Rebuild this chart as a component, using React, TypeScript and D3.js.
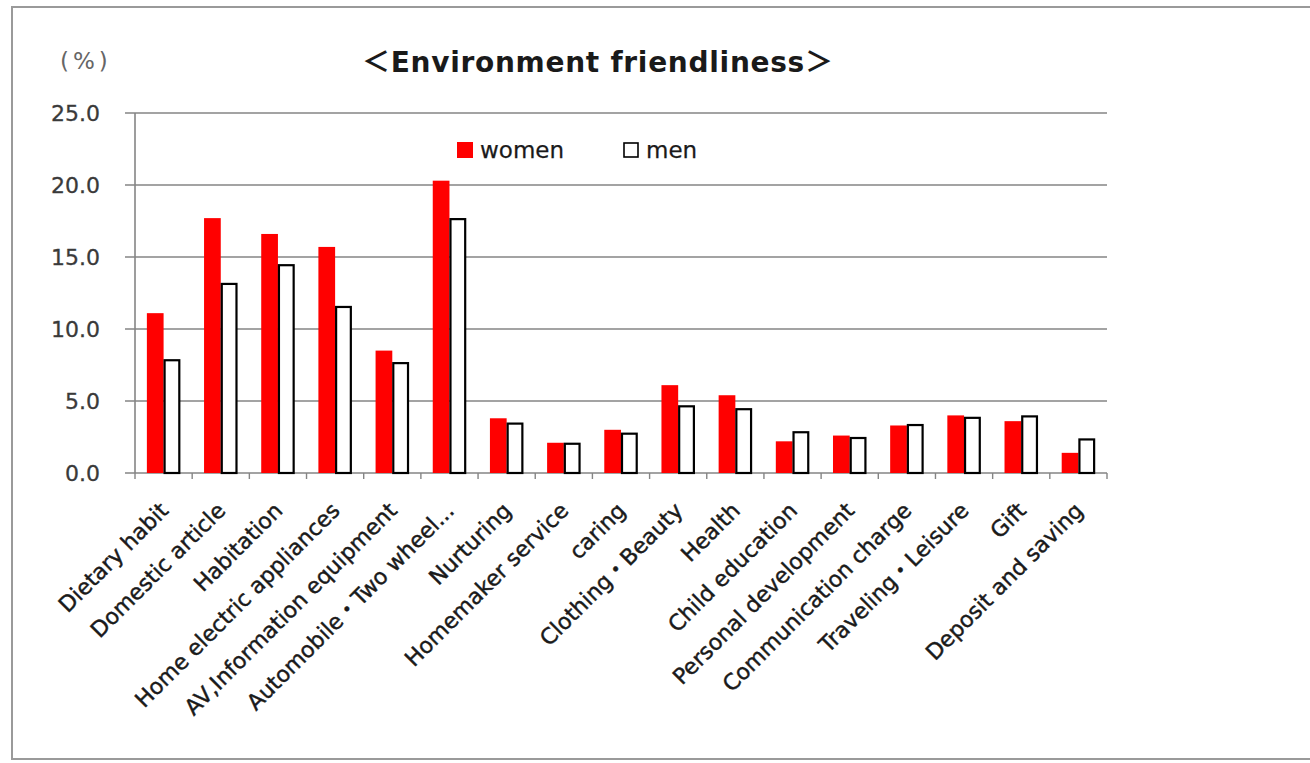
import React from "react";
import * as d3 from "d3";

const categories = [
  "Dietary habit",
  "Domestic article",
  "Habitation",
  "Home electric appliances",
  "AV,Information equipment",
  "Automobile・Two wheel...",
  "Nurturing",
  "Homemaker service",
  "caring",
  "Clothing・Beauty",
  "Health",
  "Child education",
  "Personal development",
  "Communication charge",
  "Traveling・Leisure",
  "Gift",
  "Deposit and saving",
];

const women = [11.1, 17.7, 16.6, 15.7, 8.5, 20.3, 3.8, 2.1, 3.0, 6.1, 5.4, 2.2, 2.6, 3.3, 4.0, 3.6, 1.4];
const men = [7.9, 13.2, 14.5, 11.6, 7.7, 17.7, 3.5, 2.1, 2.8, 4.7, 4.5, 2.9, 2.5, 3.4, 3.9, 4.0, 2.4];

const seriesNames = ["women", "men"];
const yTicks = [0, 5, 10, 15, 20, 25];

const W = 1310;
const H = 763;
const plotLeft = 135;
const plotRight = 1107;
const plotTop = 113;
const plotBottom = 473;

const FONT = "'DejaVu Sans', 'Noto Sans CJK JP', sans-serif";

export default function App() {
  const x0 = d3.scaleBand<string>().domain(categories).range([plotLeft, plotRight]).paddingInner(0).paddingOuter(0);
  const x1 = d3
    .scaleBand<string>()
    .domain(seriesNames)
    .range([0, x0.bandwidth()])
    .paddingInner(0)
    .paddingOuter(0.71);
  const y = d3.scaleLinear().domain([0, 25]).range([plotBottom, plotTop]);

  const data = [women, men];
  const boundaries = categories.map((c) => x0(c) as number).concat([plotRight]);

  return (
    <svg
      width={W}
      height={H}
      style={{ position: "absolute", left: 0, top: 0, background: "#fff" }}
      fontFamily={FONT}
    >
      <rect x={12} y={7} width={1400} height={752} fill="#fff" stroke="#9a9a9a" strokeWidth={2} />

      {/* title */}
      <text
        x={597.5}
        y={72}
        textAnchor="middle"
        fontSize={28}
        fontWeight="bold"
        fill="#1a1a1a"
        textLength={471}
        lengthAdjust="spacing"
      >
        ＜Environment friendliness＞
      </text>

      {/* unit */}
      <text x={60} y={69} fontSize={23} fill="#666" letterSpacing={4}>
        (%)
      </text>

      {/* gridlines */}
      {yTicks.map((t) => (
        <line
          key={"g" + t}
          x1={plotLeft - 10}
          x2={plotRight}
          y1={y(t)}
          y2={y(t)}
          stroke="#858585"
          strokeWidth={1.6}
        />
      ))}
      {/* y axis */}
      <line x1={plotLeft} x2={plotLeft} y1={plotTop} y2={plotBottom} stroke="#858585" strokeWidth={1.6} />
      {yTicks.map((t) => (
        <text
          key={"yt" + t}
          x={100}
          y={y(t)}
          dy="0.36em"
          textAnchor="end"
          fontSize={22}
          fill="#3a3a3a"
          stroke="#3a3a3a"
          strokeWidth={0.3}
        >
          {d3.format(".1f")(t)}
        </text>
      ))}

      {/* x ticks */}
      {boundaries.map((b, i) => (
        <line key={"xt" + i} x1={b} x2={b} y1={plotBottom} y2={plotBottom + 6} stroke="#858585" strokeWidth={1.4} />
      ))}

      {/* bars */}
      {categories.map((c, i) => (
        <g key={c} transform={`translate(${x0(c)},0)`}>
          {seriesNames.map((s, j) => {
            const v = data[j][i];
            const bx = x1(s) as number;
            const bw = x1.bandwidth();
            return j === 0 ? (
              <rect key={s} x={bx} y={y(v)} width={bw} height={plotBottom - y(v)} fill="#ff0000" />
            ) : (
              <rect
                key={s}
                x={bx + 1}
                y={y(v) + 1}
                width={bw - 2}
                height={plotBottom - y(v) - 1}
                fill="#fff"
                stroke="#000"
                strokeWidth={2.2}
              />
            );
          })}
        </g>
      ))}

      {/* x labels */}
      {categories.map((c) => {
        const cx = (x0(c) as number) + x0.bandwidth() / 2 + 6;
        const cy = 512;
        return (
          <text
            key={"xl" + c}
            transform={`translate(${cx},${cy}) rotate(-45)`}
            textAnchor="end"
            fontSize={22}
            fill="#1a1a1a"
            stroke="#1a1a1a"
            strokeWidth={0.45}
          >
            {c}
          </text>
        );
      })}

      {/* legend */}
      <rect x={457} y={142} width={16} height={16} fill="#ff0000" />
      <text x={480} y={158} fontSize={23} fill="#1a1a1a" stroke="#1a1a1a" strokeWidth={0.25}>
        women
      </text>
      <rect x={624} y={143} width={14} height={14} fill="#fff" stroke="#000" strokeWidth={1.6} />
      <text x={646} y={158} fontSize={23} fill="#1a1a1a" stroke="#1a1a1a" strokeWidth={0.25}>
        men
      </text>
    </svg>
  );
}
